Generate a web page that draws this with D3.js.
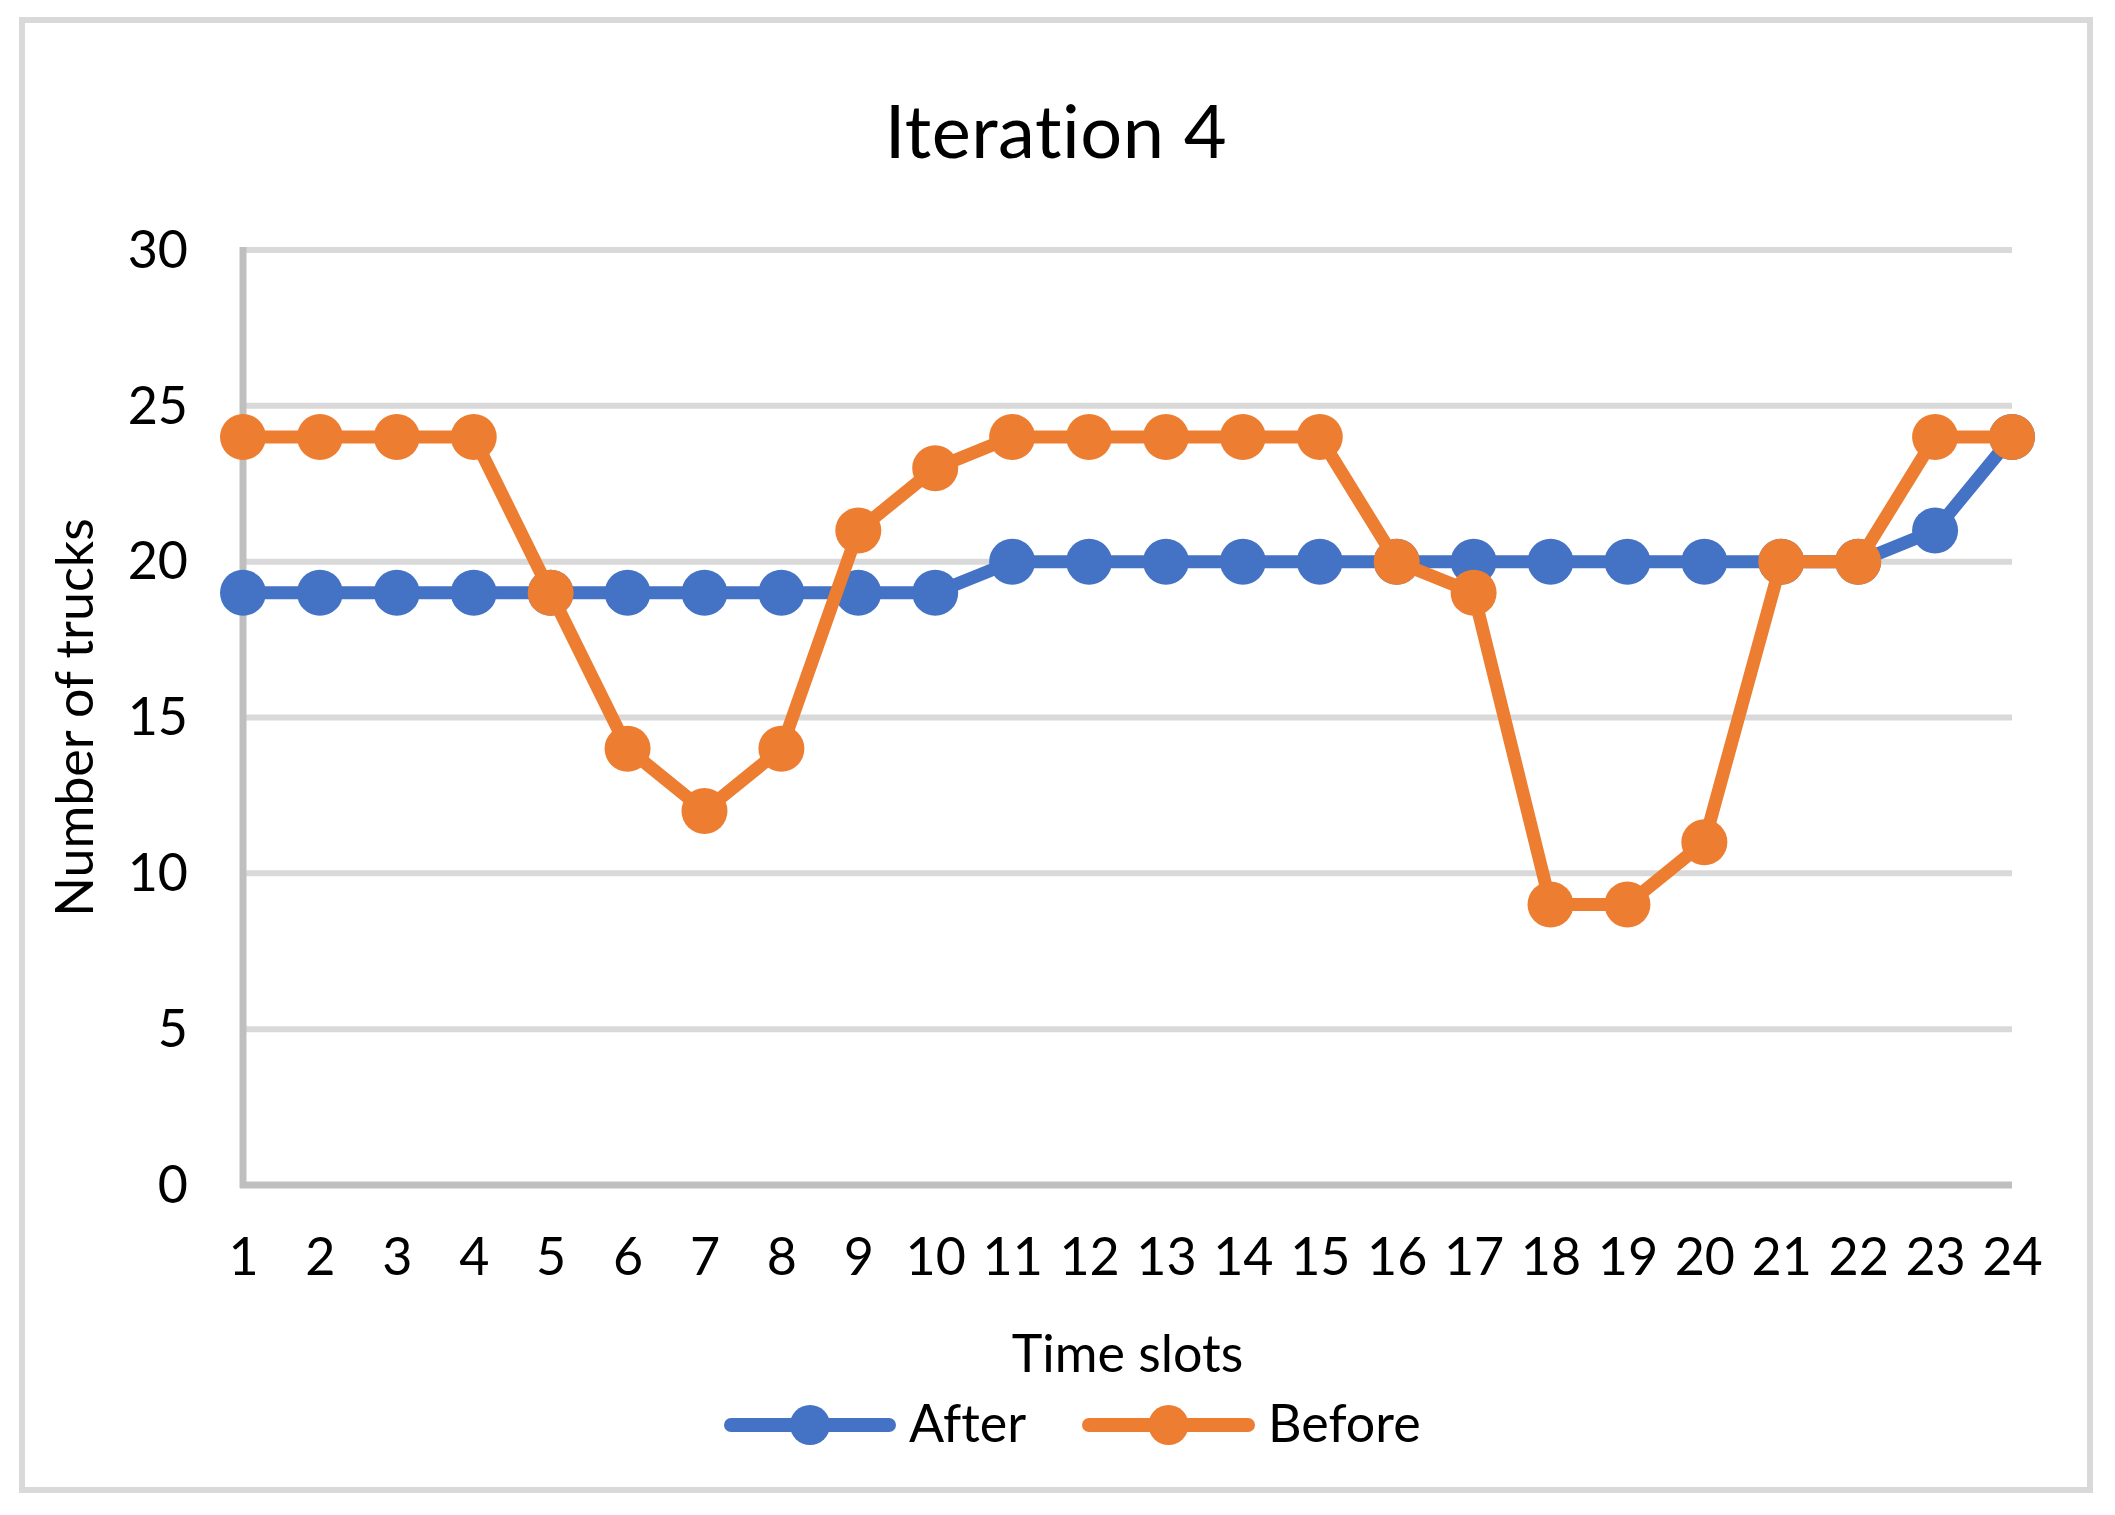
<!DOCTYPE html>
<html>
<head>
<meta charset="utf-8">
<script src="https://cdn.jsdelivr.net/npm/d3@7"></script>
<style>
  html, body { margin: 0; padding: 0; background: #fff; }
  svg text { font-family: Lato, "Open Sans", "Liberation Sans", sans-serif; fill: #000;
             font-variant-ligatures: none; font-feature-settings: "liga" 0, "clig" 0, "dlig" 0; }
</style>
</head>
<body>
<svg id="chart" width="2115" height="1515"></svg>
<script>
// ---- data ----
const slots = ["1","2","3","4","5","6","7","8","9","10","11","12","13","14","15","16","17","18","19","20","21","22","23","24"];
const afterValues  = [19,19,19,19,19,19,19,19,19,19,20,20,20,20,20,20,20,20,20,20,20,20,21,24];
const beforeValues = [24,24,24,24,19,14,12,14,21,23,24,24,24,24,24,20,19,9,9,11,20,20,24,24];
const seriesNames = ["After", "Before"];
const seriesColors = ["#4472C4", "#ED7D31"];
const yTicks = [0,5,10,15,20,25,30];
const titleText = "Iteration 4";
const xTitle = "Time slots";
const yTitle = "Number of trucks";

// ---- layout ----
const plot = { left: 243, right: 2012, top: 250, bottom: 1185 };

const svg = d3.select("#chart");

// outer border
svg.append("rect")
  .attr("x", 22).attr("y", 20).attr("width", 2068).attr("height", 1470)
  .attr("fill", "#fff").attr("stroke", "#d9d9d9").attr("stroke-width", 6);

const x = d3.scalePoint().domain(slots).range([plot.left, plot.right]);
const y = d3.scaleLinear().domain([0, 30]).range([plot.bottom, plot.top]);

// gridlines
svg.append("g").selectAll("line")
  .data(yTicks.filter(t => t > 0))
  .join("line")
  .attr("x1", plot.left).attr("x2", plot.right)
  .attr("y1", d => y(d)).attr("y2", d => y(d))
  .attr("stroke", "#d9d9d9").attr("stroke-width", 6);

// axis lines
svg.append("line")
  .attr("x1", plot.left).attr("x2", plot.left)
  .attr("y1", plot.top - 3).attr("y2", plot.bottom + 3)
  .attr("stroke", "#bfbfbf").attr("stroke-width", 7);
svg.append("line")
  .attr("x1", plot.left - 3).attr("x2", plot.right)
  .attr("y1", plot.bottom).attr("y2", plot.bottom)
  .attr("stroke", "#bfbfbf").attr("stroke-width", 7);

// y axis labels
const yAxis = svg.append("g")
  .attr("transform", `translate(${plot.left},0)`)
  .call(d3.axisLeft(y).tickValues(yTicks).tickSize(0).tickPadding(55));
yAxis.select(".domain").remove();
yAxis.selectAll("text")
  .attr("font-size", 52)
  .attr("font-family", "Lato, 'Open Sans', sans-serif")
  .attr("fill", "#000")
  .attr("dy", "0.33em");

// x axis labels
const xAxis = svg.append("g")
  .attr("transform", `translate(0,${plot.bottom})`)
  .call(d3.axisBottom(x).tickSize(0).tickPadding(0));
xAxis.select(".domain").remove();
xAxis.selectAll("text")
  .attr("font-size", 52)
  .attr("font-family", "Lato, 'Open Sans', sans-serif")
  .attr("fill", "#000")
  .attr("y", 90).attr("dy", 0);

// title
svg.append("text")
  .attr("x", 1056).attr("y", 158)
  .attr("text-anchor", "middle")
  .attr("font-size", 74)
  .attr("letter-spacing", "0.5px")
  .text(titleText);

// axis titles
svg.append("text")
  .attr("x", (plot.left + plot.right) / 2).attr("y", 1372)
  .attr("text-anchor", "middle")
  .attr("font-size", 52)
  .text(xTitle);
svg.append("text")
  .attr("transform", `translate(93,${(plot.top + plot.bottom) / 2}) rotate(-90)`)
  .attr("text-anchor", "middle")
  .attr("font-size", 52)
  .text(yTitle);

// series
const series = [
  { name: seriesNames[0], values: afterValues, color: seriesColors[0] },
  { name: seriesNames[1], values: beforeValues, color: seriesColors[1] }
];
const line = d3.line().x((d, i) => x(slots[i])).y(d => y(d));

series.forEach(s => {
  const g = svg.append("g");
  g.append("path")
    .attr("d", line(s.values))
    .attr("fill", "none")
    .attr("stroke", s.color)
    .attr("stroke-width", 13)
    .attr("stroke-linejoin", "round")
    .attr("stroke-linecap", "round");
  g.selectAll("circle")
    .data(s.values)
    .join("circle")
    .attr("cx", (d, i) => x(slots[i]))
    .attr("cy", d => y(d))
    .attr("r", 23)
    .attr("fill", s.color);
});

// legend
const legendItems = [
  { x0: 731, x1: 889, tx: 909 },
  { x0: 1089, x1: 1248, tx: 1268 }
];
const ly = 1425;
series.forEach((s, i) => {
  const L = legendItems[i];
  svg.append("line")
    .attr("x1", L.x0).attr("x2", L.x1).attr("y1", ly).attr("y2", ly)
    .attr("stroke", s.color).attr("stroke-width", 14).attr("stroke-linecap", "round");
  svg.append("circle")
    .attr("cx", (L.x0 + L.x1) / 2).attr("cy", ly).attr("r", 20).attr("fill", s.color);
  svg.append("text")
    .attr("x", L.tx).attr("y", 1442)
    .attr("font-size", 52)
    .text(s.name);
});
</script>
</body>
</html>
